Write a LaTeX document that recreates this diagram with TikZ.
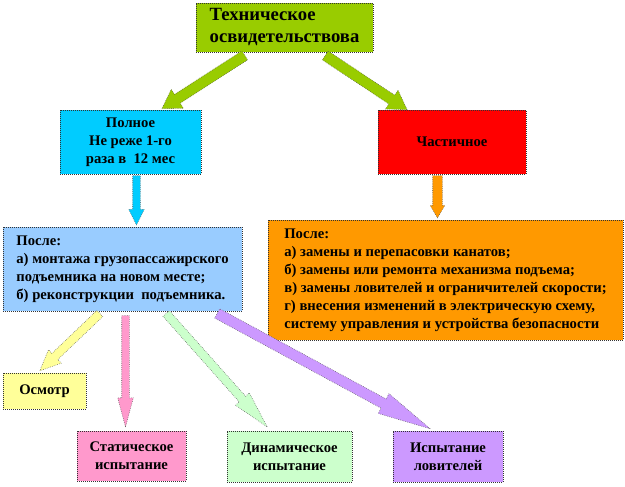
\documentclass[tikz,border=0pt]{standalone}
\usepackage{fontspec}
\setmainfont{Liberation Serif}
\usetikzlibrary{shapes.arrows,calc}

\definecolor{techgreen}{HTML}{99CC00}
\definecolor{fullcyan}{HTML}{00CCFF}
\definecolor{partred}{HTML}{FF0000}
\definecolor{afterblue}{HTML}{99CCFF}
\definecolor{afterorange}{HTML}{FF9900}
\definecolor{osmyellow}{HTML}{FFFF99}
\definecolor{statpink}{HTML}{FF99CC}
\definecolor{dynmint}{HTML}{CCFFCC}
\definecolor{lovlilac}{HTML}{CC99FF}

\tikzset{box/.style={draw=black!80,densely dotted,line width=0.5pt,inner sep=0pt,
		font=\bfseries\fontsize{11}{13.5}\selectfont,align=center},
	blockarrow/.style={single arrow,draw=black!70,densely dotted,line width=0.4pt,
		inner xsep=0pt,minimum width=0pt,single arrow head indent=0pt,anchor=tail}}

\begin{document}
\begin{tikzpicture}[x=0.75pt,y=-0.75pt]
	\useasboundingbox (0,0) rectangle (625,486);

	\node[box,fill=techgreen,minimum width=132.75pt,minimum height=36.75pt,align=left,
		font=\bfseries\fontsize{14}{16.5}\selectfont] (tech) at (284.5,27.5) {Техническое\\освидетельствова};
	\node[box,fill=fullcyan,minimum width=105.75pt,minimum height=48pt] (full) at (130.5,142) {Полное\\Не реже 1-го\\раза в~ 12 мес};
	\node[box,fill=partred,minimum width=111pt,minimum height=48pt] (part) at (452,142) {Частичное};
	\node[box,fill=afterblue,minimum width=179.25pt,minimum height=63pt,align=left] (after1) at (122.5,269)
		{После:\\а) монтажа грузопассажирского\\подъемника на новом месте;\\б) реконструкции~ подъемника.};
	\node[box,fill=afterorange,minimum width=266.25pt,minimum height=90pt,align=left] (after2) at (445.5,280)
		{После:\\а) замены и перепасовки канатов;\\б) замены или ремонта механизма подъема;\\в) замены ловителей и ограничителей скорости;\\г) внесения изменений в электрическую схему,\\систему управления и устройства безопасности};
	\node[box,fill=osmyellow,minimum width=62.25pt,minimum height=27pt] (osm) at (44.5,391) {Осмотр};
	\node[box,fill=statpink,minimum width=81.75pt,minimum height=37.5pt] (stat) at (131.5,456) {Статическое\\испытание};
	\node[box,fill=dynmint,minimum width=93.75pt,minimum height=38.25pt] (dyn) at (289.5,456.5) {Динамическое\\испытание};
	\node[box,fill=lovlilac,minimum width=82.5pt,minimum height=38.25pt] (lov) at (448,456.5) {Испытание\\ловителей};

	\coordinate (a1) at ($(tech.south)+(-39.5,3)$);
	\coordinate (b1) at ($(full.north)+(31.5,-1)$);
	\coordinate (a2) at ($(tech.south)+(40.5,3)$);
	\coordinate (b2) at ($(part.north)+(-45,0)$);
	\coordinate (a3) at ($(full.south)+(6,1)$);
	\coordinate (b3) at ($(after1.north)+(14,-2)$);
	\coordinate (a4) at ($(part.south)+(-14.5,1)$);
	\coordinate (b4) at ($(after2.north)+(-8,-2)$);
	\coordinate (a5) at ($(after1.south)+(-22.5,2)$);
	\coordinate (b5) at ($(osm.north)+(-4.5,-2)$);
	\coordinate (a6) at ($(after1.south)+(3,4)$);
	\coordinate (b6) at ($(stat.north)+(-6,-4)$);
	\coordinate (a7) at ($(after1.south)+(43.5,2)$);
	\coordinate (b7) at ($(dyn.north)+(-22.5,-4)$);
	\coordinate (a8) at ($(after1.south)+(94.5,2)$);
	\coordinate (b8) at ($(lov.north)+(-18,-2)$);

	\foreach \from/\to/\col/\shaft/\ext/\tip in {a1/b1/techgreen/3.75/4.5/63,a2/b2/techgreen/3.75/4.5/63,
			a3/b3/fullcyan/2.625/3/53,a4/b4/afterorange/3.375/1.875/60,a5/b5/osmyellow/3/3.75/48,
			a6/b6/statpink/2.625/3/30,a7/b7/dynmint/3/3.75/28,a8/b8/lovlilac/3.75/4.5/24}
	\path let \p1=($(\to)-(\from)$),\n1={veclen(\x1,\y1)},\n2={atan2(\y1,\x1)} in
		node[blockarrow,fill=\col,inner ysep=\shaft pt,single arrow head extend=\ext pt,
			single arrow tip angle=\tip,minimum height=\n1,rotate=\n2] at (\from) {};
\end{tikzpicture}
\end{document}
